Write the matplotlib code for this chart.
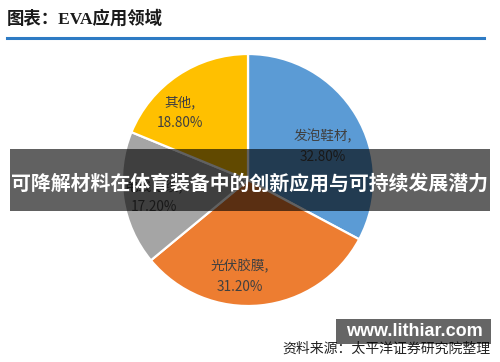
import matplotlib
matplotlib.use("Agg")
import matplotlib.pyplot as plt
import numpy as np
from matplotlib.patches import Rectangle
from matplotlib.lines import Line2D

# data
names = ["发泡鞋材", "光伏胶膜", "电线电缆", "其他"]
shares = [32.8, 31.2, 17.2, 18.8]
colors = ["#5B9BD5", "#ED7D31", "#A5A5A5", "#FFC000"]

title = "图表：EVA应用领域"
banner = "可降解材料在体育装备中的创新应用与可持续发展潜力"
source = "资料来源：太平洋证券研究院整理"
site = "www.lithiar.com"

cjk = ["Noto Sans CJK SC", "DejaVu Sans"]
plt.rcParams["font.family"] = cjk

W, H = 500, 362
fig = plt.figure(figsize=(W / 100, H / 100), dpi=100)

def fx(px):
    return px / W

def fy(py):
    return 1 - py / H

# pie: centre (248,180), radius 126 px
cx, cy, r = 248, 180, 126
ax = fig.add_axes([fx(cx - r), fy(cy + r), 2 * r / W, 2 * r / H])
wedges, _ = ax.pie(shares, colors=colors, startangle=90, counterclock=False,
                   radius=1, wedgeprops=dict(edgecolor="white", linewidth=1.6))
ax.set_xlim(-1, 1)
ax.set_ylim(-1, 1)
ax.set_aspect("auto")
ax.axis("off")

# label placement (angle in degrees, distance as fraction of radius)
label_pos = [(24, 0.65), (-95, 0.77), (190, 0.76), (135, 0.76)]
for n, s, (ang, d) in zip(names, shares, label_pos):
    a = np.deg2rad(ang)
    ax.text(d * np.cos(a), d * np.sin(a), f"{n},\n{s:.2f}%", ha="center", va="center",
            fontsize=9.8, color="#404040", linespacing=1.6)

# title and rule
fig.text(fx(7), fy(19), title, fontsize=12.5, fontweight="bold", color="#1a1a1a",
         family=["Liberation Serif", "Noto Sans CJK SC"], va="center", ha="left")
fig.add_artist(Line2D([fx(7), fx(484)], [fy(38), fy(38)], color="#2E7BC4", lw=2.2))

# banner overlay
fig.add_artist(Rectangle((fx(10), fy(211)), fx(480), 62 / H, transform=fig.transFigure,
                         facecolor="black", alpha=0.62, edgecolor="none", zorder=5))
fig.text(fx(250), fy(183), banner, fontsize=14.3, fontweight="bold", color="white",
         ha="center", va="center", zorder=6)

# source line and watermark
fig.text(fx(490), fy(349), source, fontsize=10, color="#222222", ha="right", va="center",
         zorder=4)
fig.add_artist(Rectangle((fx(336), fy(344)), fx(155), 25 / H, transform=fig.transFigure,
                         facecolor="black", alpha=0.6, edgecolor="none", zorder=5))
fig.text(fx(414), fy(332), site, fontsize=13, fontweight="bold", color="white",
         family=["Liberation Sans"], ha="center", va="center", zorder=6)

fig.savefig("out.png", dpi=100)
